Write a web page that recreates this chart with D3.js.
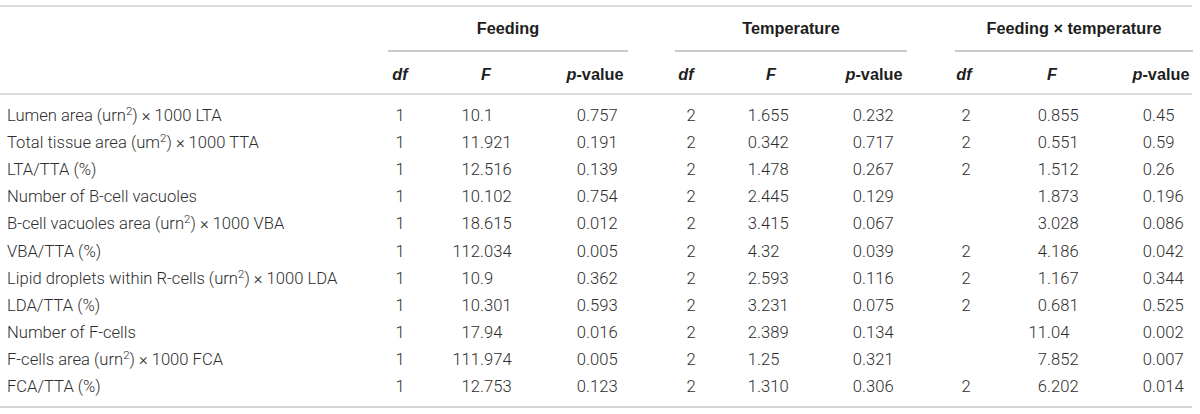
<!DOCTYPE html>
<html lang="en">
<head>
<meta charset="UTF-8">
<title>Feeding x temperature ANOVA</title>
<script src="https://cdn.jsdelivr.net/npm/d3@7"></script>
<style>
  body { margin: 0; background: #fff; }
  svg { display: block; }
  .body { font-family: Roboto, "Liberation Sans", sans-serif; font-weight: 300; font-size: 16.6px; fill: #2e2e2e; }
  .head { font-family: "Liberation Sans", Arial, sans-serif; font-weight: bold; font-size: 16.3px; fill: #1e1e1e; }
</style>
</head>
<body>
<script>
// table values, row by row (^ marks a superscript 2)
var rowLabels = [
  "Lumen area (urn^2) × 1000 LTA",
  "Total tissue area (um^2) × 1000 TTA",
  "LTA/TTA (%)",
  "Number of B-cell vacuoles",
  "B-cell vacuoles area (urn^2) × 1000 VBA",
  "VBA/TTA (%)",
  "Lipid droplets within R-cells (urn^2) × 1000 LDA",
  "LDA/TTA (%)",
  "Number of F-cells",
  "F-cells area (urn^2) × 1000 FCA",
  "FCA/TTA (%)"
];
var groups = ["Feeding", "Temperature", "Feeding × temperature"];

var feedDf = ["1","1","1","1","1","1","1","1","1","1","1"];
var feedF  = ["10.1","11.921","12.516","10.102","18.615","112.034","10.9","10.301","17.94","111.974","12.753"];
var feedP  = ["0.757","0.191","0.139","0.754","0.012","0.005","0.362","0.593","0.016","0.005","0.123"];

var tempDf = ["2","2","2","2","2","2","2","2","2","2","2"];
var tempF  = ["1.655","0.342","1.478","2.445","3.415","4.32","2.593","3.231","2.389","1.25","1.310"];
var tempP  = ["0.232","0.717","0.267","0.129","0.067","0.039","0.116","0.075","0.134","0.321","0.306"];

var interDf = ["2","2","2","","","2","2","2","","","2"];
var interF  = ["0.855","0.551","1.512","1.873","3.028","4.186","1.167","0.681","11.04","7.852","6.202"];
var interP  = ["0.45","0.59","0.26","0.196","0.086","0.042","0.344","0.525","0.002","0.007","0.014"];

var W = 1200, H = 414;
var svg = d3.select("body").append("svg")
  .attr("width", W).attr("height", H);

// row baselines
var y = d3.scaleLinear().domain([0, rowLabels.length - 1]).range([121, 392]);

// column layout per group: df centre, F decimal point, p decimal point, header centres, underline span
var layout = [
  { df: 400, F: 480, p: 586, hF: 486, hp: 595, hdf: 400, title: 508, line: [388, 628] },
  { df: 691, F: 757, p: 862, hF: 771, hp: 874, hdf: 686, title: 791, line: [675, 907] },
  { df: 966, F: 1047, p: 1152, hF: 1052, hp: 1161, hdf: 964, title: 1074, line: [955, 1193] }
];
var cols = [
  [feedDf, feedF, feedP],
  [tempDf, tempF, tempP],
  [interDf, interF, interP]
];

// rules
var rules = [
  { x1: 0, x2: 1192, y: 6, w: 2, c: "#dcdcdc" },
  { x1: 0, x2: 1192, y: 94, w: 2, c: "#dcdcdc" },
  { x1: 0, x2: 1192, y: 407, w: 2, c: "#d4d4d4" }
];
layout.forEach(function(l) {
  rules.push({ x1: l.line[0], x2: l.line[1], y: 51, w: 1.3, c: "#b8b8b8" });
});
svg.selectAll("line.rule").data(rules).enter().append("line")
  .attr("class", "rule")
  .attr("x1", function(d) { return d.x1; })
  .attr("x2", function(d) { return d.x2; })
  .attr("y1", function(d) { return d.y; })
  .attr("y2", function(d) { return d.y; })
  .attr("stroke", function(d) { return d.c; })
  .attr("stroke-width", function(d) { return d.w; });

// group titles
svg.selectAll("text.title").data(groups).enter().append("text")
  .attr("class", "head")
  .attr("x", function(d, i) { return layout[i].title; })
  .attr("y", 34)
  .attr("text-anchor", "middle")
  .text(function(d) { return d; });

// sub headers
layout.forEach(function(l) {
  svg.append("text").attr("class", "head").attr("x", l.hdf).attr("y", 80)
    .attr("text-anchor", "middle").style("font-style", "italic").text("df");
  svg.append("text").attr("class", "head").attr("x", l.hF).attr("y", 80)
    .attr("text-anchor", "middle").style("font-style", "italic").text("F");
  var p = svg.append("text").attr("class", "head").attr("x", l.hp).attr("y", 80)
    .attr("text-anchor", "middle");
  p.append("tspan").style("font-style", "italic").text("p");
  p.append("tspan").text("-value");
});

// row labels with superscript
var lab = svg.selectAll("text.lab").data(rowLabels).enter().append("text")
  .attr("class", "body")
  .attr("x", 7)
  .attr("y", function(d, i) { return y(i); });
lab.each(function(d) {
  var t = d3.select(this);
  var parts = d.split("^");
  t.append("tspan").text(parts[0]);
  if (parts.length > 1) {
    t.append("tspan").attr("dy", -6).style("font-size", "11.5px").text(parts[1].charAt(0));
    t.append("tspan").attr("dy", 6).text(parts[1].slice(1));
  }
});

// numbers: df centred, F and p aligned on the decimal point
function decimalColumn(values, xDec) {
  var g = svg.append("g").attr("class", "body");
  var rows = g.selectAll("g").data(values).enter().append("g");
  rows.append("text")
    .attr("x", xDec).attr("y", function(d, i) { return y(i); })
    .attr("text-anchor", "end")
    .text(function(d) { return d.split(".")[0]; });
  rows.append("text")
    .attr("x", xDec).attr("y", function(d, i) { return y(i); })
    .attr("text-anchor", "start")
    .text(function(d) { return d.indexOf(".") >= 0 ? "." + d.split(".")[1] : ""; });
}

cols.forEach(function(c, gi) {
  var l = layout[gi];
  svg.append("g").attr("class", "body").selectAll("text").data(c[0]).enter().append("text")
    .attr("x", l.df).attr("y", function(d, i) { return y(i); })
    .attr("text-anchor", "middle")
    .text(function(d) { return d; });
  decimalColumn(c[1], l.F);
  decimalColumn(c[2], l.p);
});
</script>
</body>
</html>
